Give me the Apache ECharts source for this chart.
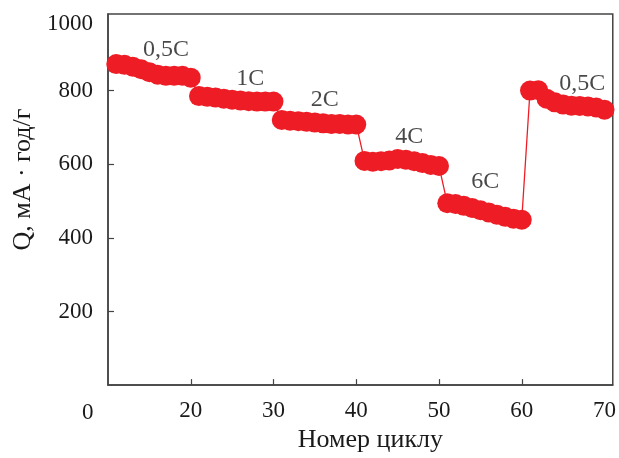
<!DOCTYPE html>
<html>
<head>
<meta charset="utf-8">
<script src="https://cdn.jsdelivr.net/npm/echarts@6/dist/echarts.min.js"></script>
<style>html,body{margin:0;padding:0;background:#fff}#c{width:619px;height:458px}</style>
</head>
<body>
<div id="c"></div>
<script>
// Data
const cycles = [11,12,13,14,15,16,17,18,19,20,21,22,23,24,25,26,27,28,29,30,31,32,33,34,35,36,37,38,39,40,41,42,43,44,45,46,47,48,49,50,51,52,53,54,55,56,57,58,59,60,61,62,63,64,65,66,67,68,69,70];
const capacity = [
  872, 870, 865, 858, 850, 843, 840, 840, 840, 835,
  785, 783, 781, 778, 775, 773, 771, 770, 770, 770,
  720, 718, 717, 715, 713, 711, 709, 709, 708, 708,
  609, 607, 608, 610, 614, 612, 608, 603, 598, 595,
  494, 492, 487, 481, 475, 469, 463, 457, 452, 449,
  800, 801, 778, 768, 762, 759, 758, 757, 754, 748
];
const rateLabels = ['0,5C', '1C', '2C', '4C', '6C', '0,5C'];
const rateLabelX = [17, 27.2, 36.2, 46.4, 55.6, 67.3];
const rateLabelY = [912, 833, 775, 674, 553, 820];
const xTicks = [20, 30, 40, 50, 60, 70];
const yTicks = [200, 400, 600, 800, 1000];

const FONT = '"Liberation Serif", "DejaVu Serif", serif';
const TXT = '#1a1a1a';
const AX = '#444';
const RED = '#ee1d25';

const chart = echarts.init(document.getElementById('c'), null, {renderer: 'canvas'});
chart.setOption({
  animation: false,
  grid: {left: 108, right: 2, top: 14, bottom: 70, show: true, borderColor: AX, borderWidth: 1.5, backgroundColor: 'transparent'},
  xAxis: {
    type: 'value', min: 10, max: 71, interval: 10,
    name: 'Номер циклу', nameLocation: 'middle', nameGap: 40,
    nameTextStyle: {fontFamily: FONT, fontSize: 26, color: TXT, padding: [0, 0, 0, 20]},
    axisLine: {show: true, lineStyle: {color: AX, width: 1.5}},
    axisTick: {show: true, inside: true, length: 6, lineStyle: {color: AX, width: 1.2},
      customValues: xTicks.slice(0, 5)},
    axisLabel: {fontFamily: FONT, fontSize: 23, color: TXT, margin: 14,
      customValues: xTicks, formatter: v => String(v)},
    splitLine: {show: false}
  },
  yAxis: {
    type: 'value', min: 0, max: 1008, interval: 200,
    name: 'Q, мА · год/г', nameLocation: 'middle', nameGap: 70,
    nameTextStyle: {fontFamily: FONT, fontSize: 26, color: TXT, padding: [0, 0, 0, 40]},
    axisLine: {show: true, lineStyle: {color: AX, width: 1.5}},
    axisTick: {show: true, inside: true, length: 6, lineStyle: {color: AX, width: 1.2},
      customValues: yTicks.slice(0, 4)},
    axisLabel: {fontFamily: FONT, fontSize: 23, color: TXT, margin: 15,
      customValues: yTicks,
      formatter: v => v === 1000 ? '{top|' + v + '}' : String(v),
      rich: {top: {fontFamily: FONT, fontSize: 23, color: TXT, padding: [14, 0, 0, 0]}}},
    splitLine: {show: false}
  },
  graphic: [{
    type: 'text', left: 82, top: 401,
    style: {text: '0', font: '23px ' + FONT, fill: TXT}
  }],
  series: [
    {
      type: 'line',
      data: cycles.map((c, i) => [c, capacity[i]]),
      symbol: 'circle', symbolSize: 20,
      itemStyle: {color: RED},
      lineStyle: {color: RED, width: 1.3},
      z: 3
    },
    {
      type: 'scatter',
      data: rateLabelX.map((x, i) => ({value: [x, rateLabelY[i]], name: rateLabels[i]})),
      symbolSize: 0,
      label: {show: true, position: 'inside', formatter: p => p.name,
        fontFamily: FONT, fontSize: 24, color: TXT},
      z: 4
    }
  ]
});
</script>
</body>
</html>
